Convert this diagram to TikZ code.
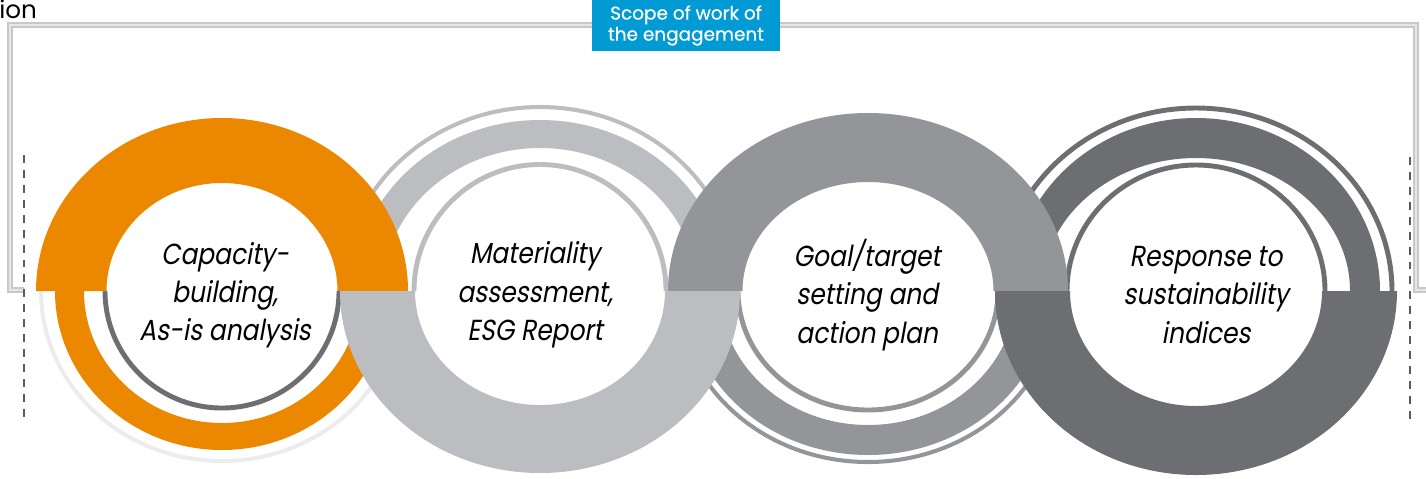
\documentclass[tikz,border=0pt]{standalone}
\usepackage{fontspec}
\setmainfont{Poppins}
\newfontfamily\ringfont{Poppins}[FakeSlant=0.18, FakeStretch=0.86]
\newfontfamily\scopefont{Poppins}[FakeBold=0.5]
\usepackage{tikz}

\definecolor{ringorange}{RGB}{235,136,0}
\definecolor{ringlight}{RGB}{188,189,192}
\definecolor{ringmid}{RGB}{147,149,152}
\definecolor{ringdark}{RGB}{109,110,113}
\definecolor{ringpale}{RGB}{236,236,236}
\definecolor{scopeblue}{RGB}{0,155,212}
\definecolor{framegray}{RGB}{200,200,200}
\definecolor{framelight}{RGB}{230,230,230}
\definecolor{dashgray}{RGB}{90,90,90}

\begin{document}
\begin{tikzpicture}[x=0.02cm,y=0.02cm,
  ringtext/.style={font=\ringfont\fontsize{16.5}{21.8}\selectfont, align=center, inner sep=0pt, text=black},
  scopebox/.style={fill=scopeblue, text=white, font=\scopefont\fontsize{10.5}{12}\selectfont, align=center,
    minimum width=3.76cm, minimum height=1.02cm, inner sep=0pt},
  scopeframe/.style={draw=framegray, double=framelight, line width=1.1pt, double distance=1.1pt},
  dashline/.style={draw=dashgray, line width=0.9pt, dash pattern=on 4.5pt off 4pt},
  thinarc/.style={line width=2.8pt},
  paperarc/.style={line width=2.3pt}]
\useasboundingbox (0,0) rectangle (1426,-478);
%
\draw[scopeframe] (24,-290) -- (10,-290) -- (10,-25) -- (1416,-25) -- (1416,-290) -- (1426,-290);
\node[scopebox] (scope) at (686,-25.5) {Scope of work of\\the engagement};
\node[anchor=base west, inner sep=0pt, font=\fontsize{14}{16}\selectfont] (ionlabel) at (-1,-18) {ion};
%
\draw[dashline] (24,-155) -- (24,-423);
\draw[dashline] (1410,-157) -- (1410,-423);
%
% upper halves of the 2nd and 4th ring, they go under
\draw[ringlight, paperarc] (342,-291) arc[start angle=180,end angle=0,x radius=198,y radius=184];
\fill[ringlight] (354,-291) arc[start angle=180,end angle=0,x radius=186,y radius=171] -- (697,-291)
  arc[start angle=0,end angle=180,x radius=157,y radius=143] -- cycle;
\draw[ringlight, thinarc] (414,-291) arc[start angle=180,end angle=0,x radius=126,y radius=126.5];
%
\draw[ringdark, thinarc] (1000,-291) arc[start angle=180,end angle=0,x radius=196,y radius=183];
\fill[ringdark] (1012,-291) arc[start angle=180,end angle=0,x radius=184,y radius=173] -- (1350,-291)
  arc[start angle=0,end angle=180,x radius=154,y radius=133] -- cycle;
\draw[ringdark, thinarc] (1067,-291) arc[start angle=180,end angle=0,x radius=129,y radius=126];
%
% lower halves of the 1st and 3rd ring
\draw[ringpale, paperarc] (41,-291) arc[start angle=180,end angle=360,x radius=181,y radius=170];
\fill[ringorange] (55,-291) arc[start angle=180,end angle=360,x radius=167,y radius=159] -- (360,-291)
  arc[start angle=360,end angle=180,x radius=138,y radius=132] -- cycle;
\draw[ringdark, thinarc] (105,-291) arc[start angle=180,end angle=360,x radius=117,y radius=117];
%
\draw[ringmid, paperarc] (678,-291) arc[start angle=180,end angle=360,x radius=190,y radius=171];
\fill[ringmid] (686,-291) arc[start angle=180,end angle=360,x radius=182,y radius=164] -- (1016,-291)
  arc[start angle=360,end angle=180,x radius=148,y radius=134] -- cycle;
\draw[ringmid, thinarc] (738,-291) arc[start angle=180,end angle=360,x radius=130,y radius=119];
%
% upper halves of the 1st and 3rd ring, on top
\fill[ringorange] (36,-291) arc[start angle=180,end angle=0,x radius=186,y radius=173] -- (337.5,-291)
  arc[start angle=0,end angle=180,x radius=115.5,y radius=108] -- cycle;
\fill[ringmid] (668,-291) arc[start angle=180,end angle=0,x radius=200,y radius=178] -- (993.5,-291)
  arc[start angle=0,end angle=180,x radius=125.5,y radius=109] -- cycle;
%
% lower halves of the 2nd and 4th ring, on top
\fill[ringlight] (340,-291) arc[start angle=180,end angle=360,x radius=200,y radius=182] -- (665,-291)
  arc[start angle=360,end angle=180,x radius=125,y radius=114] -- cycle;
\fill[ringdark] (995,-291) arc[start angle=180,end angle=360,x radius=201,y radius=184] -- (1322,-291)
  arc[start angle=360,end angle=180,x radius=126,y radius=115] -- cycle;
%
\node[ringtext] (capacity) at (225,-295) {Capacity-\\building,\\As-is analysis};
\node[ringtext] (materiality) at (535,-295) {Materiality\\assessment,\\ESG Report};
\node[ringtext] (goal) at (867,-295) {Goal/target\\setting and\\action plan};
\node[ringtext] (response) at (1206,-295) {Response to\\sustainability\\indices};
\end{tikzpicture}
\end{document}
